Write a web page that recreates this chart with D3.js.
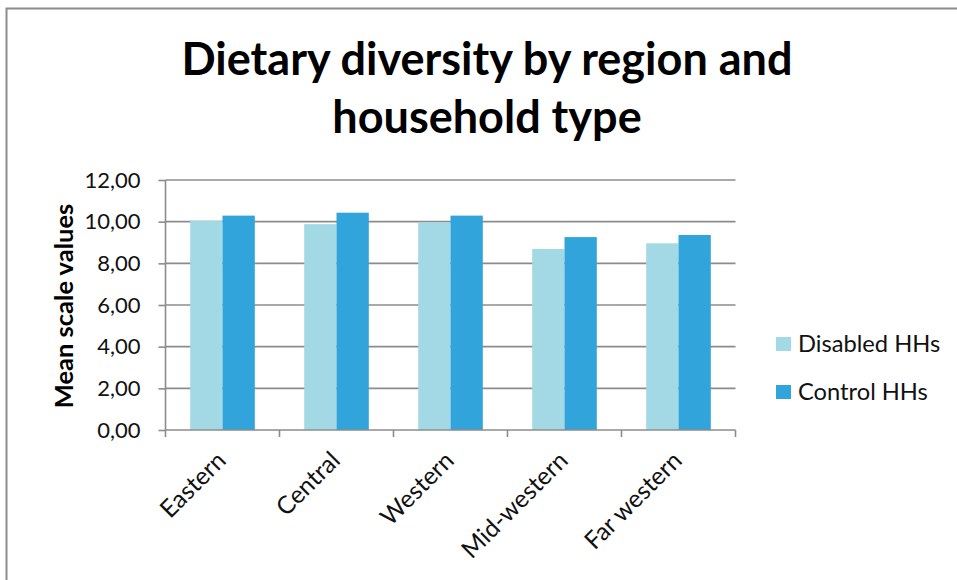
<!DOCTYPE html>
<html><head><meta charset="utf-8">
<script src="https://cdn.jsdelivr.net/npm/d3@7"></script>
<style>body{margin:0;background:#fff}svg{display:block}text{font-family:Lato,"Open Sans",sans-serif}</style>
</head><body>
<svg id="c" width="957" height="580"></svg>
<script>
const categories = ["Eastern","Central","Western","Mid-western","Far western"];
const seriesNames = ["Disabled HHs","Control HHs"];
const disabled = [10.05, 9.88, 9.97, 8.69, 8.96];
const control = [10.29, 10.43, 10.29, 9.26, 9.36];
const yTicks = [0,2,4,6,8,10,12];
const colors = ["#A3D9E5","#31A4DC"];
const titleLines = ["Dietary diversity by region and","household type"];
const yTitle = "Mean scale values";

const svg = d3.select("#c");
// outer border
svg.append("rect").attr("x",6.5).attr("y",8.5).attr("width",960).attr("height",600)
  .attr("fill","none").attr("stroke","#8c8c8c").attr("stroke-width",2);

const L=165.5, R=735.5, T=180, B=430;
const x0 = d3.scaleBand().domain(categories).range([L,R]).paddingInner(0.4333).paddingOuter(0.2167);
const x1 = d3.scaleBand().domain(seriesNames).range([0,x0.bandwidth()]);
const y = d3.scaleLinear().domain([0,12]).range([B,T]);
const fmt = v => d3.format(".2f")(v).replace(".",",");

// gridlines
svg.append("g").selectAll("line").data(yTicks.filter(d=>d>0)).join("line")
  .attr("x1",L).attr("x2",R).attr("y1",d=>y(d)).attr("y2",d=>y(d))
  .attr("stroke","#8c8c8c").attr("stroke-width",1.6);

// bars
const data = categories.map((c,i)=>({c, vals:[disabled[i],control[i]]}));
const g = svg.append("g").selectAll("g").data(data).join("g")
  .attr("transform",d=>`translate(${x0(d.c)},0)`);
g.selectAll("rect").data(d=>d.vals.map((v,j)=>({v,s:seriesNames[j],j}))).join("rect")
  .attr("x",d=>x1(d.s)).attr("width",x1.bandwidth())
  .attr("y",d=>y(d.v)).attr("height",d=>B-y(d.v))
  .attr("fill",d=>colors[d.j]);

// y axis
const ya = svg.append("g").attr("transform",`translate(${L},0)`)
  .call(d3.axisLeft(y).tickValues(yTicks).tickFormat(fmt).tickSize(7).tickPadding(18));
ya.select(".domain").attr("stroke","#8c8c8c").attr("stroke-width",1.6).attr("d",`M0,${T}V${B}`);
ya.selectAll(".tick line").attr("stroke","#8c8c8c").attr("stroke-width",1.6);
ya.selectAll(".tick text").attr("font-size",22).attr("fill","#111").attr("font-family","Lato");

// x axis
const xa = svg.append("g").attr("transform",`translate(0,${B})`);
xa.append("line").attr("x1",L).attr("x2",R).attr("stroke","#8c8c8c").attr("stroke-width",1.6);
const bounds = categories.map(c=>x0(c)-x0.step()*x0.paddingOuter()).concat([R]);
xa.selectAll("line.t").data(bounds).join("line").attr("class","t")
  .attr("x1",d=>d).attr("x2",d=>d).attr("y1",0).attr("y2",7)
  .attr("stroke","#8c8c8c").attr("stroke-width",1.6);
xa.selectAll("text").data(categories).join("text")
  .attr("transform",c=>`translate(${x0(c)+x0.bandwidth()/2+5},${32}) rotate(-45)`)
  .attr("text-anchor","end").attr("font-size",24.5).attr("fill","#111").text(c=>c);

// y title
svg.append("text").attr("transform",`translate(73,${(T+B)/2+1}) rotate(-90)`)
  .attr("text-anchor","middle").attr("font-size",25.5).attr("font-weight","bold").attr("fill","#000").text(yTitle);

// title
const tt = svg.append("g");
titleLines.forEach((t,i)=>{
  tt.append("text").attr("x",487).attr("y",75+i*58).attr("text-anchor","middle")
    .attr("font-size",45).attr("font-weight","bold").attr("fill","#000").text(t);
});

// legend
const lg = svg.append("g").selectAll("g").data(seriesNames).join("g")
  .attr("transform",(d,i)=>`translate(776,${337+i*48})`);
lg.append("rect").attr("width",15).attr("height",14).attr("fill",(d,i)=>colors[i]);
lg.append("text").attr("x",22).attr("y",15).attr("font-size",23.7).attr("fill","#111").text(d=>d);
</script>
</body></html>
